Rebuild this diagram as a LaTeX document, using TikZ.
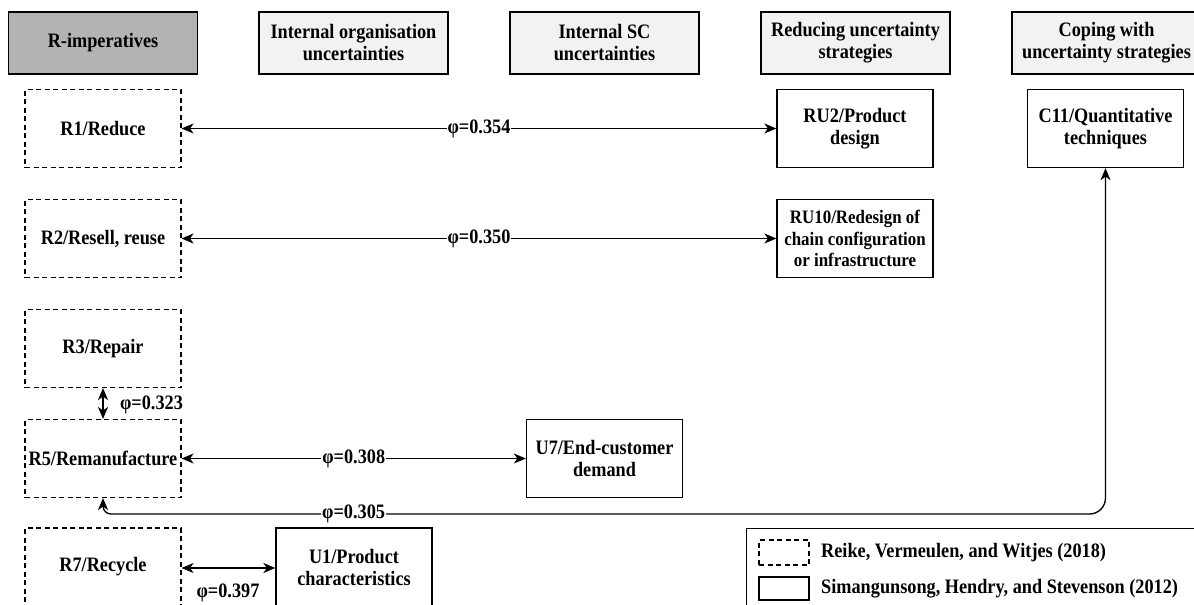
\documentclass[tikz,border=0pt]{standalone}
\usepackage{fontspec}
\setmainfont{Liberation Serif}[FakeStretch=0.89]
\usetikzlibrary{arrows.meta}
\definecolor{headfill}{HTML}{F2F2F2}
\definecolor{keyfill}{HTML}{B3B3B3}
\begin{document}
\begin{tikzpicture}[x=1pt,y=-1pt,
  every node/.style={font=\bfseries\fontsize{20.5}{22}\selectfont, align=center, inner sep=0pt},
  header/.style={draw, line width=1.3pt, minimum width=189pt, minimum height=62pt, fill=headfill},
  rbox/.style={draw, dash pattern=on 5pt off 3.5pt, line width=1.1pt, minimum width=156pt, minimum height=78pt},
  ubox/.style={draw, line width=1.3pt, minimum width=156pt, minimum height=78pt},
  link/.style={line width=1.35pt, {Stealth[length=12pt,width=10pt,inset=3.5pt]}-{Stealth[length=12pt,width=10pt,inset=3.5pt]}},
  phi/.style={fill=white, inner sep=1pt}
]
\useasboundingbox (0,0) rectangle (1194,605);
\clip (0,0) rectangle (1194,605);

% column headers
\node[header, fill=keyfill] (hR)  at (103,43)    {R-imperatives};
\node[header] (hIO) at (353.5,43)  {Internal organisation\\uncertainties};
\node[header] (hSC) at (604.5,43)  {Internal SC\\uncertainties};
\node[header] (hRU) at (855.5,43)  {Reducing uncertainty\\strategies};
\node[header] (hC)  at (1106.5,43) {Coping with\\uncertainty strategies};

% R-imperatives
\node[rbox] (r1) at (103,128.5) {R1/Reduce};
\node[rbox] (r2) at (103,238.5) {R2/Resell, reuse};
\node[rbox] (r3) at (103,348.5) {R3/Repair};
\node[rbox] (r5) at (103,458.5) {R5/Remanufacture};
\node[rbox] (r7) at (103,567)   {R7/Recycle};

% uncertainties and strategies
\node[ubox] (ru2)  at (855,128.5)    {RU2/Product\\design};
\node[ubox, font=\bfseries\fontsize{19}{21.5}\selectfont] (ru10) at (855,238.5)
  {RU10/Redesign of\\chain configuration\\or infrastructure};
\node[ubox] (c11)  at (1105.5,128.5) {C11/Quantitative\\techniques};
\node[ubox] (u7)   at (604.5,458.5)  {U7/End-customer\\demand};
\node[ubox] (u1)   at (354,567)      {U1/Product\\characteristics};

% associations
\draw[link] (r1) -- node[phi] {φ=0.354} (ru2);
\draw[link] (r2) -- node[phi] {φ=0.350} (ru10);
\draw[link] (r3) -- (r5);
\node (p323) at (151.5,405) {φ=0.323};
\draw[link] (r5) -- node[phi] {φ=0.308} (u7);
\coordinate (lowrun) at (0,514);
\draw[link, rounded corners=8pt] (r5.south) -- (r5.south |- lowrun)
  [rounded corners=16pt] -- node[phi, pos=0.25] {φ=0.305} (c11.south |- lowrun) -- (c11.south);
\draw[link] (r7.east |- 0,568) -- (u1.west |- 0,568);
\node (p397) at (228,593) {φ=0.397};

% legend
\node[draw, line width=1.2pt, minimum width=470pt, minimum height=90pt, anchor=north west] (legend) at (746,528) {};
\node[draw, dash pattern=on 5pt off 3.5pt, line width=1.1pt, minimum width=50pt, minimum height=25pt] (keyr) at (784,552.5) {};
\node[anchor=west] (keyrt) at (821,553) {Reike, Vermeulen, and Witjes (2018)};
\node[draw, line width=1.3pt, minimum width=50pt, minimum height=23pt] (keyu) at (784,588.5) {};
\node[anchor=west] (keyut) at (821,589) {Simangunsong, Hendry, and Stevenson (2012)};
\end{tikzpicture}
\end{document}
